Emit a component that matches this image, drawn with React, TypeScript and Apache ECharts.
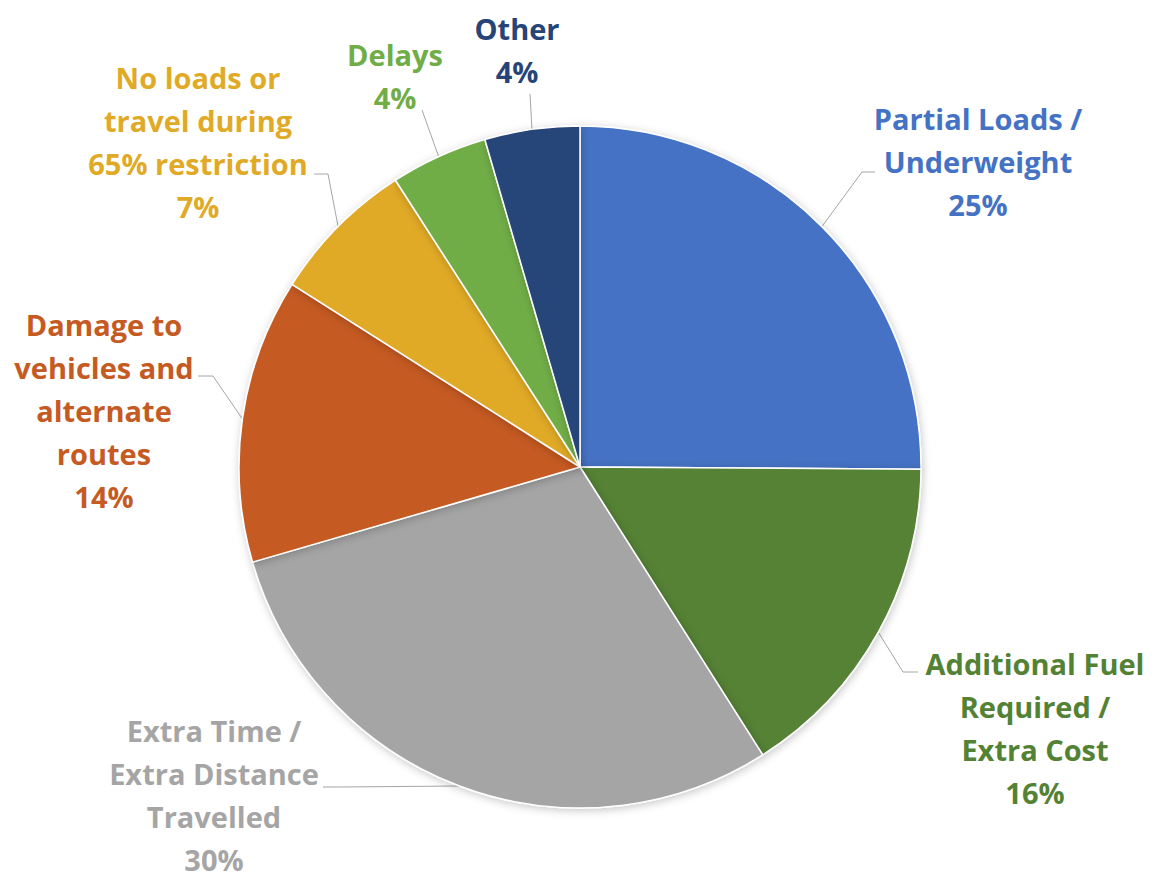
import React, { useEffect, useRef } from "react";
import * as echarts from "echarts";

const categories = [
  "Partial Loads /\nUnderweight",
  "Additional Fuel\nRequired /\nExtra Cost",
  "Extra Time /\nExtra Distance\nTravelled",
  "Damage to\nvehicles and\nalternate\nroutes",
  "No loads or\ntravel during\n65% restriction",
  "Delays",
  "Other",
];
const values = [25.1, 15.9, 29.5, 13.5, 6.9, 4.6, 4.5];
const percentLabels = ["25%", "16%", "30%", "14%", "7%", "4%", "4%"];
const colors = ["#4472C4", "#548235", "#A5A5A5", "#C55A22", "#E0AA27", "#70AD47", "#264478"];

// label block centres and the label-side part of each leader line
const labelPlacement = [
  { x: 978, y: 161, line: [[862, 172], [875, 172]] },
  { x: 1035, y: 728, line: [[903, 672], [918, 672]] },
  { x: 214, y: 795, line: [[338, 787], [323, 787]] },
  { x: 104, y: 410, line: [[213, 376], [198, 376]] },
  { x: 198, y: 142, line: [[328, 174], [314, 174]] },
  { x: 395, y: 76, line: [[422, 110]] },
  { x: 517, y: 50, line: [[530, 94]] },
];

export default function App() {
  const ref = useRef<HTMLDivElement>(null);
  useEffect(() => {
    if (!ref.current) return;
    const chart = echarts.init(ref.current, null, { renderer: "svg" });
    chart.setOption({
      animation: false,
      backgroundColor: "#ffffff",
      series: [
        {
          type: "pie",
          center: [580, 467],
          radius: 341,
          startAngle: 90,
          clockwise: true,
          avoidLabelOverlap: false,
          data: categories.map((name, i) => ({
            name,
            value: values[i],
            itemStyle: { color: colors[i] },
            label: { color: colors[i] },
          })),
          itemStyle: {
            borderColor: "#ffffff",
            borderWidth: 1.5,
            shadowBlur: 8,
            shadowColor: "rgba(0,0,0,0.22)",
            shadowOffsetX: 1,
            shadowOffsetY: 2,
          },
          label: {
            show: true,
            position: "outside",
            formatter: (p: any) => p.name + "\n" + percentLabels[p.dataIndex],
            fontFamily: "'Open Sans', 'Noto Sans', sans-serif",
            fontWeight: "bold",
            fontSize: 29,
            lineHeight: 43,
            align: "center",
          },
          labelLine: {
            show: true,
            length: 20,
            length2: 15,
            lineStyle: { color: "#A6A6A6", width: 1 },
          },
          labelLayout: (params: any) => {
            const p = labelPlacement[params.dataIndex];
            const pts = params.labelLinePoints;
            const out: any = {
              x: p.x,
              y: p.y,
              align: "center",
              verticalAlign: "middle",
            };
            if (pts && pts.length) {
              out.labelLinePoints = [pts[0], ...p.line];
            }
            return out;
          },
        },
      ],
    });
    return () => chart.dispose();
  }, []);
  return (
    <div
      ref={ref}
      style={{ position: "fixed", left: 0, top: 0, width: 1156, height: 878 }}
    />
  );
}
